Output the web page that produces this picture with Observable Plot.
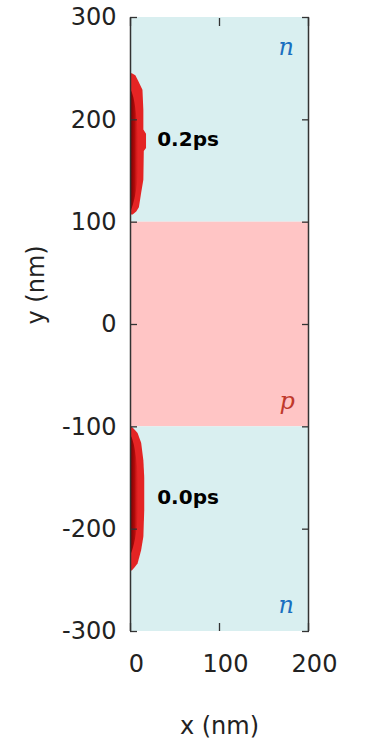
<!DOCTYPE html>
<html><head><meta charset="utf-8">
<script src="https://cdn.jsdelivr.net/npm/d3@7"></script>
<script src="https://cdn.jsdelivr.net/npm/@observablehq/plot@0.6"></script>
<style>body{margin:0;background:#fff}</style>
</head><body><div id="chart"></div>
<script>
const xTicks = [0, 100, 200];
const yTicks = [-300, -200, -100, 0, 100, 200, 300];
const regionY1 = [100, -100, -300];
const regionY2 = [300, 100, -100];
const regionType = ["n", "p", "n"];
const upperBlobY = [245, 243, 238, 229, 209, 190, 186, 172, 169, 141, 128, 114, 110, 107];
const upperBlobW = [2, 6, 9, 14, 15, 15, 18, 18, 15.5, 15, 12.5, 10, 7, 3];
const upperCoreY = [230, 224, 199, 170, 141, 121, 111];
const upperCoreW = [0, 4, 8, 10, 9, 5, 1];
const lowerBlobY = [-100.5, -103, -106.5, -116, -133, -150, -182, -208, -221, -234, -238, -241];
const lowerBlobW = [2, 5, 8.5, 12.5, 15, 16, 16, 15, 12.5, 8.5, 5, 2];
const lowerCoreY = [-108, -113.4, -142.7, -172, -201.3, -220.9, -226];
const lowerCoreW = [0, 4, 9, 10, 8, 3, 0];
const timeLabels = ["0.2ps", "0.0ps"];
const timeLabelX = [30, 30];
const timeLabelY = [181, -169];
const typeLabels = ["n", "p", "n"];
const typeLabelX = [175, 176, 175];
const typeLabelY = [271, -75, -274];

const regions = regionType.map((t, i) => ({y1: regionY1[i], y2: regionY2[i], type: t}));
const mk = (ys, ws) => ys.map((y, i) => ({y, w: ws[i]}));
const upper = mk(upperBlobY, upperBlobW), lower = mk(lowerBlobY, lowerBlobW);
const upperCore = mk(upperCoreY, upperCoreW), lowerCore = mk(lowerCoreY, lowerCoreW);
const times = timeLabels.map((t, i) => ({t, x: timeLabelX[i], y: timeLabelY[i]}));
const types = typeLabels.map((t, i) => ({t, x: typeLabelX[i], y: typeLabelY[i]}));

const defs = () => {
  const d = d3.create("svg:defs");
  const g = d.append("linearGradient").attr("id", "coreGrad").attr("x1", 0).attr("x2", 1).attr("y1", 0).attr("y2", 0);
  g.append("stop").attr("offset", "0%").attr("stop-color", "#6e0000").attr("stop-opacity", 1);
  g.append("stop").attr("offset", "55%").attr("stop-color", "#a80606").attr("stop-opacity", 0.85);
  g.append("stop").attr("offset", "100%").attr("stop-color", "#d81c1c").attr("stop-opacity", 0);
  return d.node();
};

const font = "DejaVu Sans, sans-serif";
const fmt = d => String(d);
const chart = Plot.plot({
  width: 367, height: 739,
  marginLeft: 130, marginRight: 59, marginTop: 17, marginBottom: 108,
  style: {fontFamily: font, background: "#fff"},
  x: {domain: [0, 200], axis: null},
  y: {domain: [-300, 300], axis: null},
  color: {domain: ["n", "p"], range: ["#d9eff0", "#ffc5c5"]},
  marks: [
    defs,
    Plot.rect(regions, {x1: 0, x2: 200, y1: "y1", y2: "y2", fill: "type"}),
    Plot.areaX(upper, {y: "y", x1: 0, x2: "w", fill: "#e42424"}),
    Plot.areaX(lower, {y: "y", x1: 0, x2: "w", fill: "#e42424"}),
    Plot.areaX(upperCore, {y: "y", x1: 0, x2: "w", fill: "url(#coreGrad)", curve: "basis"}),
    Plot.areaX(lowerCore, {y: "y", x1: 0, x2: "w", fill: "url(#coreGrad)", curve: "basis"}),
    Plot.text(times, {x: "x", y: "y", text: "t", textAnchor: "start", fontSize: 20, fontWeight: "bold", fill: "#000", fontFamily: font}),
    Plot.text(types, {x: "x", y: "y", text: "t", fontSize: 24, fontStyle: "italic", fontFamily: "DejaVu Serif, serif",
      fill: d => d.t === "p" ? "#c0392b" : "#1a6fc0"}),
    Plot.ruleX([xTicks[0], xTicks[xTicks.length - 1]], {stroke: "#333", strokeWidth: 1.5}),
    Plot.axisY(yTicks, {anchor: "left", tickSize: -7, tickFormat: () => "", stroke: "#333", strokeWidth: 1.3, label: null}),
    Plot.axisY(yTicks, {anchor: "right", tickSize: -7, tickFormat: () => "", stroke: "#333", strokeWidth: 1.3, label: null}),
    Plot.axisX(xTicks, {anchor: "top", tickSize: -8, tickFormat: () => "", stroke: "#333", strokeWidth: 1.3, label: null}),
    Plot.axisX(xTicks, {anchor: "bottom", tickSize: -8, tickFormat: () => "", stroke: "#333", strokeWidth: 1.3, label: null}),
    Plot.axisY(yTicks, {anchor: "left", tickSize: 0, tickPadding: 14, tickFormat: fmt, fontSize: 24, fill: "#222", label: null}),
    Plot.axisX(xTicks, {anchor: "bottom", tickSize: 0, tickPadding: 23, dx: 6, tickFormat: fmt, fontSize: 24, fill: "#222", label: null}),
    Plot.text(["y (nm)"], {frameAnchor: "left", dx: -94, rotate: -90, fontSize: 24, fill: "#222"}),
    Plot.text(["x (nm)"], {frameAnchor: "bottom", dy: 102, fontSize: 24, fill: "#222"})
  ]
});
document.getElementById("chart").append(chart);
</script>
</body></html>
